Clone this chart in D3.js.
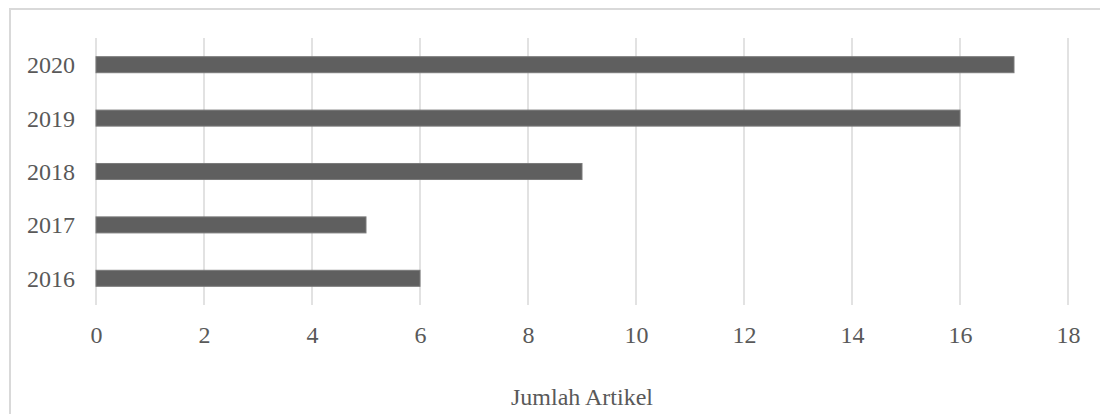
<!DOCTYPE html>
<html>
<head>
<meta charset="utf-8">
<script src="https://cdn.jsdelivr.net/npm/d3@7"></script>
<style>
html,body{margin:0;padding:0;background:#fff;}
svg{display:block;}
text{font-family:"Liberation Serif","Times New Roman",serif;fill:#595959;}
</style>
</head>
<body>
<svg id="chart" width="1100" height="414"></svg>
<script>
const years = ["2020", "2019", "2018", "2017", "2016"];
const articles = [17, 16, 9, 5, 6];
const xTicks = [0, 2, 4, 6, 8, 10, 12, 14, 16, 18];
const xTitle = "Jumlah Artikel";

(function () {
const svg = d3.select("#chart");
const W = 1100, H = 414;
const mLeft = 96, mRight = 1068, mTop = 38, mBottom = 305;

svg.append("rect").attr("x", 10).attr("y", 9).attr("width", W + 10).attr("height", H + 10)
  .attr("fill", "#fff").attr("stroke", "#d9d9d9").attr("stroke-width", 2);

const x = d3.scaleLinear().domain([0, 18]).range([mLeft, mRight]);
const y = d3.scaleBand().domain(years).range([mTop, mBottom]).paddingInner(0.7).paddingOuter(0.35);

// gridlines
svg.append("g").selectAll("line").data(xTicks).join("line")
  .attr("x1", d => x(d)).attr("x2", d => x(d))
  .attr("y1", mTop).attr("y2", mBottom)
  .attr("stroke", "#d9d9d9").attr("stroke-width", 1.5);

// bars
svg.append("g").selectAll("rect").data(years).join("rect")
  .attr("x", x(0))
  .attr("y", d => y(d))
  .attr("width", (d, i) => x(articles[i]) - x(0))
  .attr("height", y.bandwidth())
  .attr("fill", "#5f5f5f")
  .attr("stroke", "#7a7a7a").attr("stroke-width", 1);

// x axis labels
const xAxis = d3.axisBottom(x).tickValues(xTicks).tickSize(0).tickPadding(0);
const gx = svg.append("g").attr("transform", `translate(0,${mBottom})`).call(xAxis);
gx.select(".domain").remove();
gx.selectAll("text").attr("dy", null).attr("y", 38)
  .style("font-size", "24px").style("font-family", '"Liberation Serif", serif').attr("fill", "#595959");

// y axis labels
const yAxis = d3.axisLeft(y).tickSize(0).tickPadding(0);
const gy = svg.append("g").attr("transform", `translate(75,0)`).call(yAxis);
gy.select(".domain").remove();
gy.selectAll("text").attr("dy", "0.35em").attr("x", 0)
  .style("font-size", "24px").style("font-family", '"Liberation Serif", serif').attr("fill", "#595959");

// axis title
svg.append("text").attr("x", 582).attr("y", 405).attr("text-anchor", "middle")
  .style("font-size", "24px").text(xTitle);
})();
</script>
</body>
</html>
